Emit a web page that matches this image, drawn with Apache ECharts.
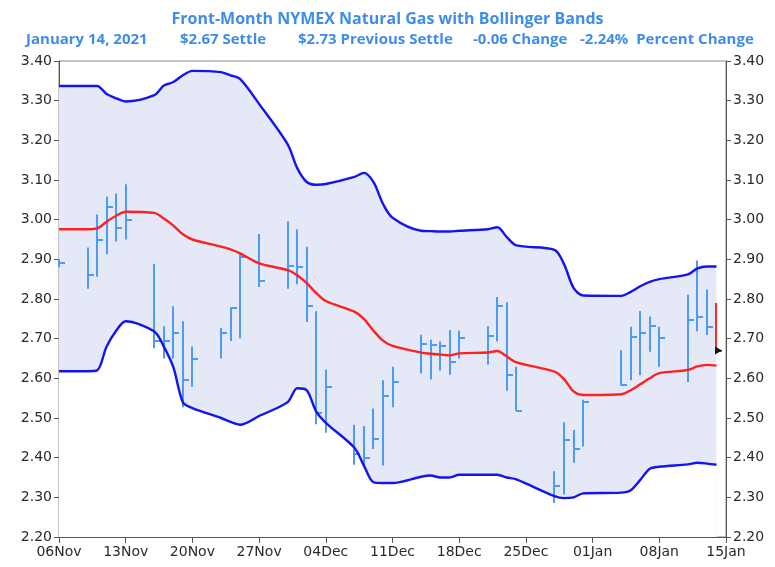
<!DOCTYPE html>
<html>
<head>
<meta charset="utf-8">
<script src="https://cdn.jsdelivr.net/npm/echarts@6/dist/echarts.min.js"></script>
<style>
  html, body { margin: 0; padding: 0; background: #fff; }
  #chart { width: 775px; height: 567px; }
</style>
</head>
<body>
<div id="chart"></div>
<script>
// trading days shown on the chart
const dates = [
  '2020-11-06', '2020-11-09', '2020-11-10', '2020-11-11', '2020-11-12', '2020-11-13',
  '2020-11-16', '2020-11-17', '2020-11-18', '2020-11-19', '2020-11-20',
  '2020-11-23', '2020-11-24', '2020-11-25', '2020-11-27',
  '2020-11-30', '2020-12-01', '2020-12-02', '2020-12-03', '2020-12-04',
  '2020-12-07', '2020-12-08', '2020-12-09', '2020-12-10', '2020-12-11',
  '2020-12-14', '2020-12-15', '2020-12-16', '2020-12-17', '2020-12-18',
  '2020-12-21', '2020-12-22', '2020-12-23', '2020-12-24',
  '2020-12-28', '2020-12-29', '2020-12-30', '2020-12-31',
  '2021-01-04', '2021-01-05', '2021-01-06', '2021-01-07', '2021-01-08',
  '2021-01-11', '2021-01-12', '2021-01-13', '2021-01-14'
];
const highs = [
  2.90, 2.930, 3.013, 3.058, 3.066, 3.089,
  2.888, 2.731, 2.782, 2.744, 2.680,
  2.727, 2.779, 2.913, 2.964,
  2.996, 2.975, 2.932, 2.769, 2.622,
  2.483, 2.480, 2.524, 2.595, 2.629,
  2.710, 2.697, 2.693, 2.722, 2.720,
  2.731, 2.805, 2.792, 2.629,
  2.366, 2.489, 2.470, 2.546,
  2.671, 2.730, 2.770, 2.756, 2.730,
  2.811, 2.897, 2.824, 2.790
];
const lows = [
  2.88, 2.826, 2.856, 2.913, 2.945, 2.950,
  2.676, 2.650, 2.650, 2.527, 2.578,
  2.650, 2.694, 2.701, 2.830,
  2.826, 2.837, 2.742, 2.484, 2.463,
  2.382, 2.380, 2.422, 2.380, 2.527,
  2.612, 2.597, 2.620, 2.609, 2.650,
  2.635, 2.693, 2.569, 2.518,
  2.286, 2.307, 2.387, 2.428,
  2.582, 2.595, 2.608, 2.667, 2.629,
  2.591, 2.719, 2.709, 2.665
];
const closes = [
  2.89, 2.861, 2.950, 3.032, 2.979, 2.998,
  2.693, 2.693, 2.714, 2.595, 2.650,
  2.714, 2.777, 2.905, 2.845,
  2.884, 2.881, 2.782, 2.512, 2.578,
  2.410, 2.400, 2.446, 2.555, 2.592,
  2.686, 2.684, 2.682, 2.640, 2.701,
  2.707, 2.782, 2.608, 2.518,
  2.328, 2.444, 2.421, 2.540,
  2.582, 2.703, 2.715, 2.731, 2.701,
  2.747, 2.754, 2.730, 2.670
];
const upperBand = [
  3.337, 3.337, 3.337, 3.317, 3.306, 3.298,
  3.314, 3.338, 3.347, 3.364, 3.375,
  3.372, 3.364, 3.355, 3.292,
  3.190, 3.130, 3.095, 3.088, 3.090,
  3.108, 3.118, 3.095, 3.040, 3.005,
  2.972, 2.971, 2.970, 2.970, 2.972,
  2.976, 2.981, 2.956, 2.935,
  2.924, 2.888, 2.828, 2.809,
  2.808, 2.818, 2.832, 2.843, 2.850,
  2.862, 2.877, 2.882, 2.882
];
const middleBand = [
  2.976, 2.976, 2.978, 2.995, 3.010, 3.020,
  3.017, 3.003, 2.985, 2.963, 2.950,
  2.932, 2.925, 2.915, 2.890,
  2.873, 2.860, 2.840, 2.815, 2.795,
  2.768, 2.750, 2.720, 2.695, 2.682,
  2.665, 2.662, 2.660, 2.658, 2.663,
  2.665, 2.669, 2.655, 2.640,
  2.617, 2.598, 2.567, 2.558,
  2.560, 2.570, 2.585, 2.600, 2.613,
  2.621, 2.630, 2.634, 2.632
];
const lowerBand = [
  2.618, 2.618, 2.620, 2.680, 2.720, 2.744,
  2.718, 2.680, 2.628, 2.540, 2.525,
  2.500, 2.490, 2.483, 2.505,
  2.540, 2.575, 2.570, 2.516, 2.488,
  2.425, 2.380, 2.338, 2.336, 2.336,
  2.352, 2.355, 2.350, 2.350, 2.357,
  2.357, 2.357, 2.350, 2.345,
  2.303, 2.298, 2.300, 2.310,
  2.312, 2.318, 2.344, 2.372, 2.377,
  2.383, 2.387, 2.385, 2.382
];
const tickLabels = ['06Nov', '13Nov', '20Nov', '27Nov', '04Dec', '11Dec', '18Dec', '25Dec', '01Jan', '08Jan', '15Jan'];
const startDate = '2020-11-06';

const titleColor = '#3f8de8';
const barColor = '#4c9cf2';
const lastBarColor = '#ff2a2a';
const bandFill = '#e5e9f7';

// day offset from 06Nov, so the axis runs in calendar days
const dayIndex = dates.map(d => Math.round((Date.parse(d) - Date.parse(startDate)) / 86400000));
const bars = dates.map((d, i) => [dayIndex[i], highs[i], lows[i], closes[i]]);
const linePts = arr => arr.map((v, i) => [dayIndex[i], v]);

const chart = echarts.init(document.getElementById('chart'));

const axisLabel = { color: '#2a2a2a', fontSize: 14, fontFamily: 'DejaVu Sans' };
const yAxisBase = {
  type: 'value',
  min: 2.2,
  max: 3.4,
  interval: 0.1,
  axisLine: { show: true, lineStyle: { color: '#555', width: 1 } },
  axisTick: { show: true, length: 5, lineStyle: { color: '#555' } },
  splitLine: { show: false },
  axisLabel: { ...axisLabel, margin: 7, formatter: v => v.toFixed(2) }
};

const header = [
  ['January 14, 2021', 26],
  ['$2.67 Settle', 180],
  ['$2.73 Previous Settle', 298],
  ['-0.06 Change', 473],
  ['-2.24%  Percent Change', 580]
];
const headStyle = { color: titleColor, fontSize: 15, fontWeight: 'bold', fontFamily: 'Open Sans' };

const smooth = 0.3;

chart.setOption({
  animation: false,
  backgroundColor: '#fff',
  title: [
    {
      text: 'Front-Month NYMEX Natural Gas with Bollinger Bands',
      left: 'center',
      top: 6,
      textStyle: { ...headStyle, fontSize: 16 }
    },
    ...header.map(([t, x]) => ({ text: t, left: x, top: 32, padding: 0, textStyle: headStyle }))
  ],
  grid: {
    left: 59, right: 49, top: 61, bottom: 30,
    show: true, borderColor: '#888', borderWidth: 1, backgroundColor: 'transparent'
  },
  xAxis: {
    type: 'value',
    min: 0,
    max: 70,
    interval: 7,
    axisLine: { show: true, onZero: false, lineStyle: { color: '#555', width: 1 } },
    axisTick: { show: true, length: 6, lineStyle: { color: '#555' } },
    splitLine: { show: false },
    axisLabel: { ...axisLabel, margin: 8, formatter: v => tickLabels[Math.round(v / 7)] }
  },
  yAxis: [
    { ...yAxisBase, position: 'left' },
    { ...yAxisBase, position: 'right' }
  ],
  series: [
    // band fill: shade under the upper band, then paint white under the lower band
    {
      type: 'line',
      data: linePts(upperBand),
      smooth,
      symbol: 'none',
      lineStyle: { opacity: 0 },
      areaStyle: { color: bandFill, opacity: 1, origin: 'start' },
      z: 1,
      silent: true
    },
    {
      type: 'line',
      data: linePts(lowerBand),
      smooth,
      symbol: 'none',
      lineStyle: { opacity: 0 },
      areaStyle: { color: '#ffffff', opacity: 1, origin: 'start' },
      z: 1,
      silent: true
    },
    {
      type: 'custom',
      name: 'HLC',
      data: bars,
      z: 3,
      renderItem: (params, api) => {
        const x = api.value(0);
        const hi = api.coord([x, api.value(1)]);
        const lo = api.coord([x, api.value(2)]);
        const cl = api.coord([x, api.value(3)]);
        const px = Math.round(hi[0]);
        const last = params.dataIndex === dates.length - 1;
        const color = last ? lastBarColor : barColor;
        const children = [
          { type: 'line', shape: { x1: px, y1: hi[1], x2: px, y2: lo[1] }, style: { stroke: color, lineWidth: 2 } },
          { type: 'line', shape: { x1: px, y1: Math.round(cl[1]), x2: px + 6, y2: Math.round(cl[1]) }, style: { stroke: color, lineWidth: 2 } }
        ];
        if (last) {
          children.push({
            type: 'polygon',
            shape: { points: [[px - 1, cl[1] - 4], [px + 6, cl[1]], [px - 1, cl[1] + 4]] },
            style: { fill: '#111' },
            z2: 5
          });
        }
        return { type: 'group', children };
      }
    },
    {
      type: 'line',
      name: 'Upper',
      data: linePts(upperBand),
      smooth,
      symbol: 'none',
      lineStyle: { color: '#1414f0', width: 2.4 },
      z: 4
    },
    {
      type: 'line',
      name: 'Lower',
      data: linePts(lowerBand),
      smooth,
      symbol: 'none',
      lineStyle: { color: '#1414f0', width: 2.4 },
      z: 4
    },
    {
      type: 'line',
      name: 'Middle',
      data: linePts(middleBand),
      smooth,
      symbol: 'none',
      lineStyle: { color: '#ff2020', width: 2.4 },
      z: 4
    }
  ]
});
</script>
</body>
</html>
